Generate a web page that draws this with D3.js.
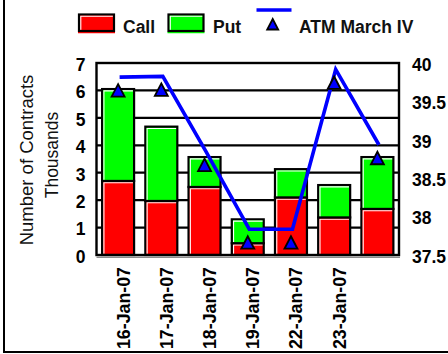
<!DOCTYPE html>
<html><head><meta charset="utf-8">
<script src="https://cdn.jsdelivr.net/npm/d3@7"></script>
<style>html,body{margin:0;padding:0;background:#fff;}svg{display:block;}</style>
</head><body>
<svg id="c" width="448" height="354"></svg>
<script>
const categories = ["16-Jan-07","17-Jan-07","18-Jan-07","19-Jan-07","22-Jan-07","23-Jan-07","day7"];
const tickLabels = ["16-Jan-07","17-Jan-07","18-Jan-07","19-Jan-07","22-Jan-07","23-Jan-07",""];
const callValues = [2.70, 1.97, 2.48, 0.43, 2.10, 1.37, 1.68];
const putValues  = [3.35, 2.71, 1.09, 0.87, 1.03, 1.18, 1.89];
const ivValues   = [39.64, 39.65, 38.67, 37.66, 37.66, 39.74, 38.76];
const leftTicks  = [0,1,2,3,4,5,6,7];
const rightTicks = [37.5, 38, 38.5, 39, 39.5, 40];
const seriesNames = ["Call","Put","ATM March IV"];

const svg = d3.select("#c");
const L = 96.5, R = 399, T = 63, B = 255;
const FONT = "'Liberation Sans', Arial, sans-serif";

// outer frame
svg.append("rect").attr("x",4).attr("y",-3).attr("width",470).attr("height",355)
  .attr("fill","none").attr("stroke","#000").attr("stroke-width",2);

const x = d3.scaleBand().domain(categories).range([L,R]).paddingInner(0.26).paddingOuter(0.13);
const yL = d3.scaleLinear().domain([0,7]).range([B,T]);
const yR = d3.scaleLinear().domain([37.5,40]).range([B,T]);

// plot background + gridlines
svg.append("rect").attr("x",L).attr("y",T).attr("width",R-L).attr("height",B-T).attr("fill","#fff");
svg.append("g").selectAll("line").data(leftTicks.filter(d=>d>0&&d<7)).join("line")
  .attr("x1",L).attr("x2",R).attr("y1",d=>yL(d)).attr("y2",d=>yL(d))
  .attr("stroke","#000").attr("stroke-width",2.2);

// bars
const stackData = categories.map((c,i)=>({cat:c, segs:[
  {y0:0, y1:callValues[i], color:"#ff0000"},
  {y0:callValues[i], y1:callValues[i]+putValues[i], color:"#00ff00"}
]}));
const bars = svg.append("g");
stackData.forEach(d=>{
  d.segs.forEach(s=>{
    const bx = x(d.cat), bw = x.bandwidth();
    const top = yL(s.y1), bot = yL(s.y0);
    bars.append("rect").attr("x",bx).attr("y",top).attr("width",bw).attr("height",bot-top)
      .attr("fill",s.color).attr("stroke","#000").attr("stroke-width",2.2);
    bars.append("path")
      .attr("d",`M${bx+1.8},${bot-1.2}V${top+1.8}H${bx+bw-1.2}`)
      .attr("fill","none").attr("stroke","#fff").attr("stroke-width",1.1);
  });
});

// plot border
svg.append("rect").attr("x",L).attr("y",T).attr("width",R-L).attr("height",B-T)
  .attr("fill","none").attr("stroke","#000").attr("stroke-width",2.4);
// bottom shadow
svg.append("line").attr("x1",L).attr("x2",R+1).attr("y1",B+2.3).attr("y2",B+2.3)
  .attr("stroke","#8c8c8c").attr("stroke-width",1.5);

// IV line (drawn offset as in the reference) and markers
const lineGen = d3.line().x((d,i)=>x(categories[i])+x.bandwidth()/2).y(d=>yR(d));
svg.append("path").datum(ivValues).attr("d",lineGen)
  .attr("transform","translate(1.5,-13.5)")
  .attr("fill","none").attr("stroke","#0000ff").attr("stroke-width",3.6)
  .attr("stroke-linejoin","miter");
const tri = "M0,-6.5L6.5,6L-6.5,6Z";
svg.append("g").selectAll("path").data(ivValues).join("path")
  .attr("d",tri)
  .attr("transform",(d,i)=>`translate(${x(categories[i])+x.bandwidth()/2},${yR(d)})`)
  .attr("fill","#0000ff").attr("stroke","#000").attr("stroke-width",1.8).attr("stroke-linejoin","miter");

// left axis labels
svg.append("g").selectAll("text").data(leftTicks).join("text")
  .attr("x",85.5).attr("y",d=>yL(d)+1.5).attr("dy","0.36em")
  .attr("text-anchor","end").attr("font-family",FONT).attr("font-weight","bold")
  .attr("font-size",17.5).attr("fill","#000").text(d=>d);
// right axis labels
svg.append("g").selectAll("text").data(rightTicks).join("text")
  .attr("x",412).attr("y",d=>yR(d)+1.5).attr("dy","0.36em")
  .attr("text-anchor","start").attr("font-family",FONT).attr("font-weight","bold")
  .attr("font-size",17.5).attr("fill","#000").text(d=>d);

// x labels
svg.append("g").selectAll("text").data(categories).join("text")
  .attr("transform",d=>`translate(${x(d)+x.bandwidth()/2+11.5},267) rotate(-90)`)
  .attr("text-anchor","end").attr("font-family",FONT).attr("font-weight","bold")
  .attr("font-size",17.8).attr("fill","#000").text((d,i)=>tickLabels[i]);

// axis titles
svg.append("text").attr("transform","translate(33,160) rotate(-90)")
  .attr("text-anchor","middle").attr("font-family",FONT).attr("font-size",18.5)
  .attr("fill","#111").text("Number of Contracts");
svg.append("text").attr("transform","translate(58,155) rotate(-90)")
  .attr("text-anchor","middle").attr("font-family",FONT).attr("font-size",17.5)
  .attr("fill","#111").text("Thousands");

// legend
const lg = svg.append("g");
const swatches = [{name:seriesNames[0],color:"#ff0000",x:79,tx:123},{name:seriesNames[1],color:"#00ff00",x:168.5,tx:213}];
swatches.forEach(s=>{
  lg.append("line").attr("x1",s.x-1).attr("x2",s.x+36).attr("y1",32.5).attr("y2",32.5)
    .attr("stroke",s.color).attr("stroke-width",1.5);
  lg.append("rect").attr("x",s.x).attr("y",14.5).attr("width",35).attr("height",16.5)
    .attr("fill",s.color).attr("stroke","#000").attr("stroke-width",2.2);
  lg.append("path").attr("d",`M${s.x+1.8},${31-1.2}V${14.5+1.8}H${s.x+35-1.2}`)
    .attr("fill","none").attr("stroke","#fff").attr("stroke-width",1.1);
  lg.append("text").attr("x",s.tx).attr("y",32.5).attr("font-family",FONT).attr("font-weight","bold")
    .attr("font-size",17.5).attr("fill","#111").text(s.name);
});
lg.append("line").attr("x1",256.5).attr("x2",291.5).attr("y1",10).attr("y2",10)
  .attr("stroke","#0000ff").attr("stroke-width",3.6);
lg.append("path").attr("d","M0,-5.5L5.5,5L-5.5,5Z").attr("transform","translate(272.7,24.5)")
  .attr("fill","#0000ff").attr("stroke","#000").attr("stroke-width",1.8);
lg.append("text").attr("x",299).attr("y",32.5).attr("font-family",FONT).attr("font-weight","bold")
  .attr("font-size",17.5).attr("fill","#111").text(seriesNames[2]);
</script>
</body></html>
